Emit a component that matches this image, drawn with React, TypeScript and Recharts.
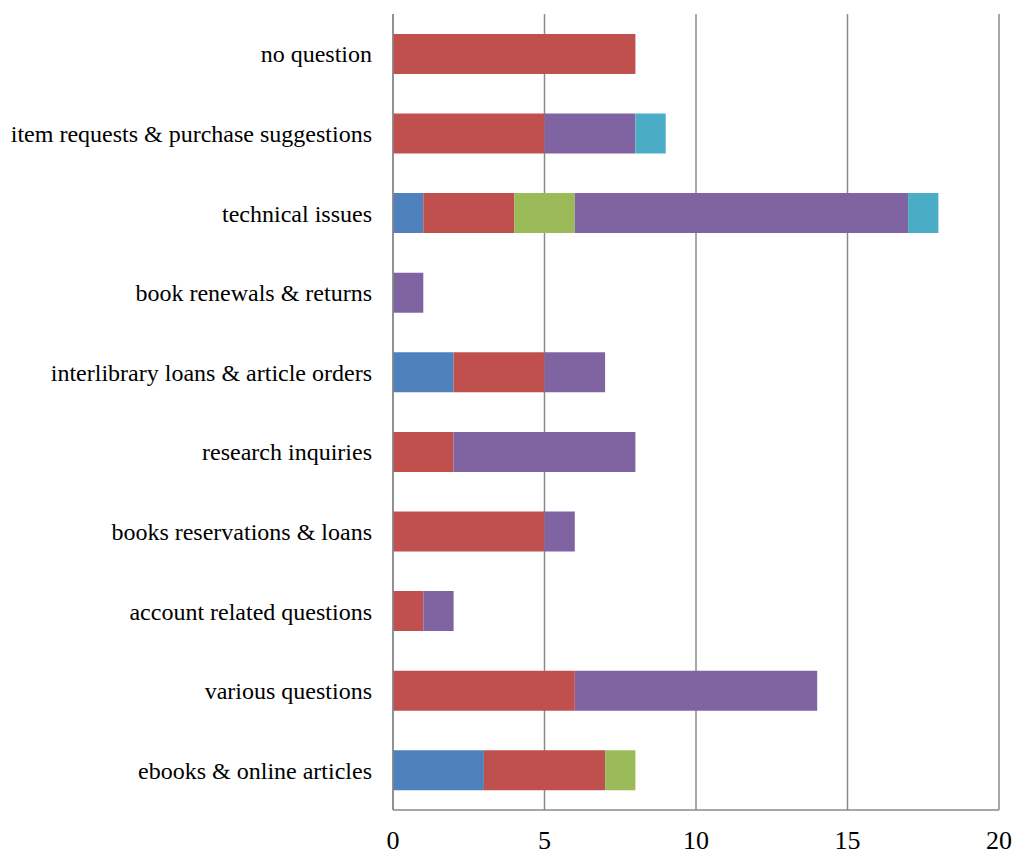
import { BarChart, Bar, XAxis, YAxis, CartesianGrid } from "recharts"

const categories = [
  "no question",
  "item requests & purchase suggestions",
  "technical issues",
  "book renewals & returns",
  "interlibrary loans & article orders",
  "research inquiries ",
  "books reservations & loans",
  "account related questions",
  "various questions",
  "ebooks & online articles",
]

const blueValues = [0, 0, 1, 0, 2, 0, 0, 0, 0, 3]
const redValues = [8, 5, 3, 0, 3, 2, 5, 1, 6, 4]
const greenValues = [0, 0, 2, 0, 0, 0, 0, 0, 0, 1]
const purpleValues = [0, 3, 11, 1, 2, 6, 1, 1, 8, 0]
const cyanValues = [0, 1, 1, 0, 0, 0, 0, 0, 0, 0]

const xTicks = [0, 5, 10, 15, 20]

const data = categories.map((name, i) => ({
  name,
  blue: blueValues[i],
  red: redValues[i],
  green: greenValues[i],
  purple: purpleValues[i],
  cyan: cyanValues[i],
}))

const font = "'Liberation Serif', 'Times New Roman', serif"
const gridColor = "#8a8a8a"

export default function App() {
  return (
    <div style={{ position: "absolute", left: 0, top: 0 }}>
      <BarChart
        width={1014}
        height={855}
        data={data}
        layout="vertical"
        barCategoryGap="25%"
        margin={{ top: 14, right: 15, bottom: 0, left: 0 }}
        style={{ fontFamily: font }}
      >
        <CartesianGrid horizontal={false} stroke={gridColor} strokeWidth={1.5} />
        <XAxis
          type="number"
          domain={[0, 20]}
          ticks={xTicks}
          height={45}
          tickLine={false}
          tickSize={0}
          tickMargin={21}
          axisLine={{ stroke: gridColor, strokeWidth: 1.5 }}
          tick={{ fill: "#000", fontSize: 26, fontFamily: font }}
        />
        <YAxis
          type="category"
          dataKey="name"
          width={393}
          tickLine={false}
          tickSize={0}
          tickMargin={21}
          axisLine={{ stroke: gridColor, strokeWidth: 1.5 }}
          tick={{ fill: "#000", fontSize: 24, fontFamily: font }}
          interval={0}
        />
        <Bar dataKey="blue" stackId="a" fill="#4F81BD" isAnimationActive={false} />
        <Bar dataKey="red" stackId="a" fill="#C0504D" isAnimationActive={false} />
        <Bar dataKey="green" stackId="a" fill="#9BBB59" isAnimationActive={false} />
        <Bar dataKey="purple" stackId="a" fill="#8064A2" isAnimationActive={false} />
        <Bar dataKey="cyan" stackId="a" fill="#4BACC6" isAnimationActive={false} />
      </BarChart>
    </div>
  )
}
